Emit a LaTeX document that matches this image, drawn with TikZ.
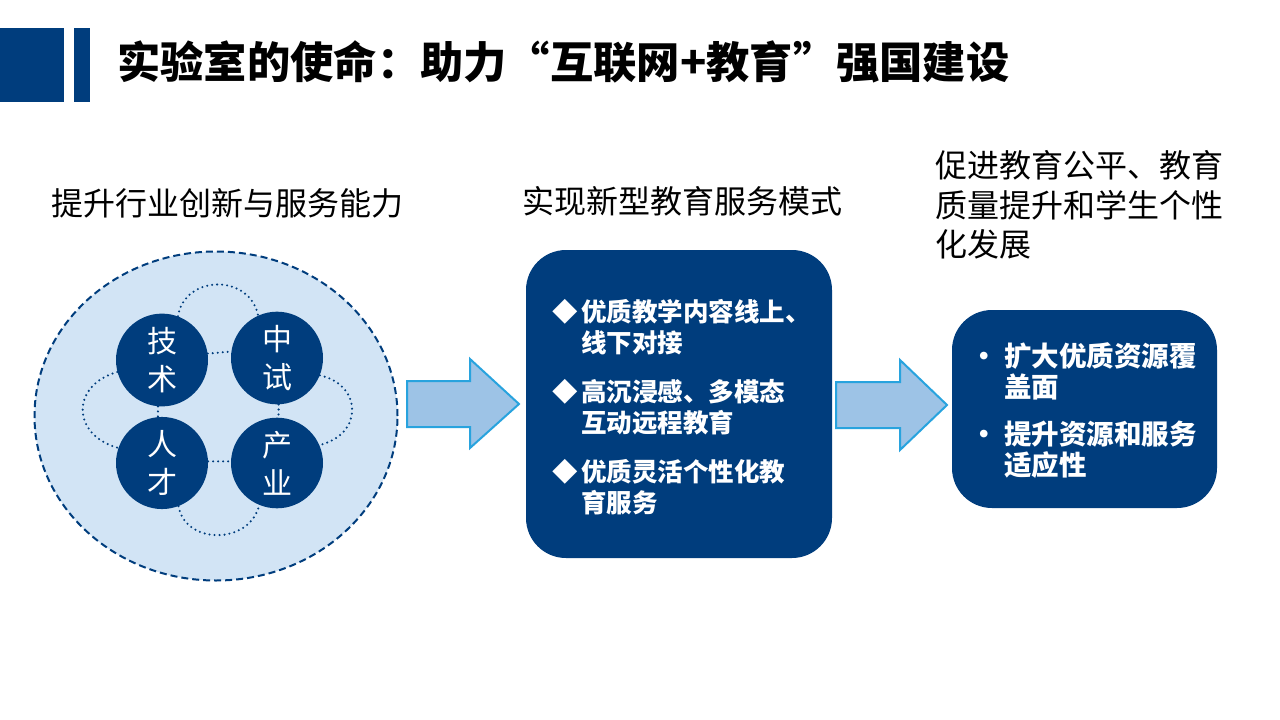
\documentclass[tikz,border=0pt]{standalone}
\usepackage{fontspec}
\setmainfont{Noto Sans CJK SC}
\usetikzlibrary{shapes.geometric}
\definecolor{navy}{RGB}{0,61,125}
\definecolor{paleblue}{RGB}{210,228,245}
\definecolor{arrowfill}{RGB}{157,195,230}
\definecolor{arrowline}{RGB}{40,163,222}
\tikzset{
  hdr/.style={font=\fontsize{32}{32}\selectfont, anchor=base west, inner sep=0pt, text=black},
  midtxt/.style={font=\bfseries\fontsize{25.5}{25.5}\selectfont, text=white, anchor=base west, inner sep=0pt},
  righttxt/.style={font=\bfseries\fontsize{27.5}{27.5}\selectfont, text=white, anchor=base west, inner sep=0pt},
  keyball/.style={ellipse, fill=navy, minimum width=92pt, minimum height=84pt, inner sep=0pt,
                  text=white, align=center, font=\fontsize{30}{38}\selectfont},
  dotlink/.style={draw=navy, line width=2.3pt, line cap=round, dash pattern=on 0pt off 5pt},
  blockarrow/.style={fill=arrowfill, draw=arrowline, line width=2pt, line join=miter},
  panel/.style={fill=navy, rounded corners=40pt, inner sep=0pt}
}
\begin{document}
\begin{tikzpicture}[x=1pt,y=-1pt]
\fill[white] (0,0) rectangle (1280,720);
\useasboundingbox (0,0) rectangle (1280,720);

% header
\fill[navy] (0,28) rectangle (64,102);
\fill[navy] (74,28) rectangle (90,102);
\node[anchor=base west, inner sep=0pt, font=\bfseries\fontsize{43.3}{43.3}\selectfont] (title) at (117,78)
  {实验室的使命：助力“互联网+教育”强国建设};

% column headings
\node[hdr] (h1) at (51,215) {提升行业创新与服务能力};
\node[hdr] (h2) at (522,213) {实现新型教育服务模式};
\node[hdr] (h3a) at (935,177) {促进教育公平、教育};
\node[hdr] (h3b) at (935,217) {质量提升和学生个性};
\node[hdr] (h3c) at (935,256) {化发展};

% left cluster
\node[ellipse, fill=paleblue, draw=navy, line width=2pt, dash pattern=on 7pt off 4pt,
      minimum width=363pt, minimum height=329pt, inner sep=0pt] (cloud) at (216,416) {};
\node[keyball] (js) at (162,360) {技\\术};
\node[keyball] (zs) at (277,358) {中\\试};
\node[keyball] (rc) at (162,463) {人\\才};
\node[keyball] (cy) at (277,463) {产\\业};

\draw[dotlink] (js.8) -- (zs.172);
\draw[dotlink] (rc.2) -- (cy.178);
\draw[dotlink] (js.265) -- (rc.95);
\draw[dotlink] (zs.272) -- (cy.88);
\draw[dotlink] (js.70) .. controls (185,274) and (250,274) .. (zs.114);
\draw[dotlink] (rc.291) .. controls (185,545) and (250,545) .. (cy.247);
\draw[dotlink] (js.195) .. controls (71,385) and (71,435) .. (rc.161);
\draw[dotlink] (zs.338) .. controls (363,385) and (363,435) .. (cy.23);

% arrows
\draw[blockarrow] (407,381) -- (470,381) -- (470,359) -- (519,404) -- (470,448) -- (470,427) -- (407,427) -- cycle;
\draw[blockarrow] (836,382) -- (900,382) -- (900,360) -- (947,405) -- (900,450) -- (900,428) -- (836,428) -- cycle;

% middle panel
\node[panel, minimum width=306pt, minimum height=308pt] (mid) at (679,404) {};
\node[midtxt] (m1b) at (552,321) {◆};
\node[midtxt] (m1) at (581,321) {优质教学内容线上、};
\node[midtxt] (m2) at (581,352) {线下对接};
\node[midtxt] (m3b) at (552,401) {◆};
\node[midtxt] (m3) at (581,401) {高沉浸感、多模态};
\node[midtxt] (m4) at (581,432) {互动远程教育};
\node[midtxt] (m5b) at (552,481) {◆};
\node[midtxt] (m5) at (581,481) {优质灵活个性化教};
\node[midtxt] (m6) at (581,512) {育服务};

% right panel
\node[panel, minimum width=265pt, minimum height=198pt] (rgt) at (1084.5,409) {};
\node[righttxt] (r1b) at (970,366) {•};
\node[righttxt] (r1) at (1004,366) {扩大优质资源覆};
\node[righttxt] (r2) at (1004,397) {盖面};
\node[righttxt] (r3b) at (970,444) {•};
\node[righttxt] (r3) at (1004,444) {提升资源和服务};
\node[righttxt] (r4) at (1004,475) {适应性};
\end{tikzpicture}
\end{document}
